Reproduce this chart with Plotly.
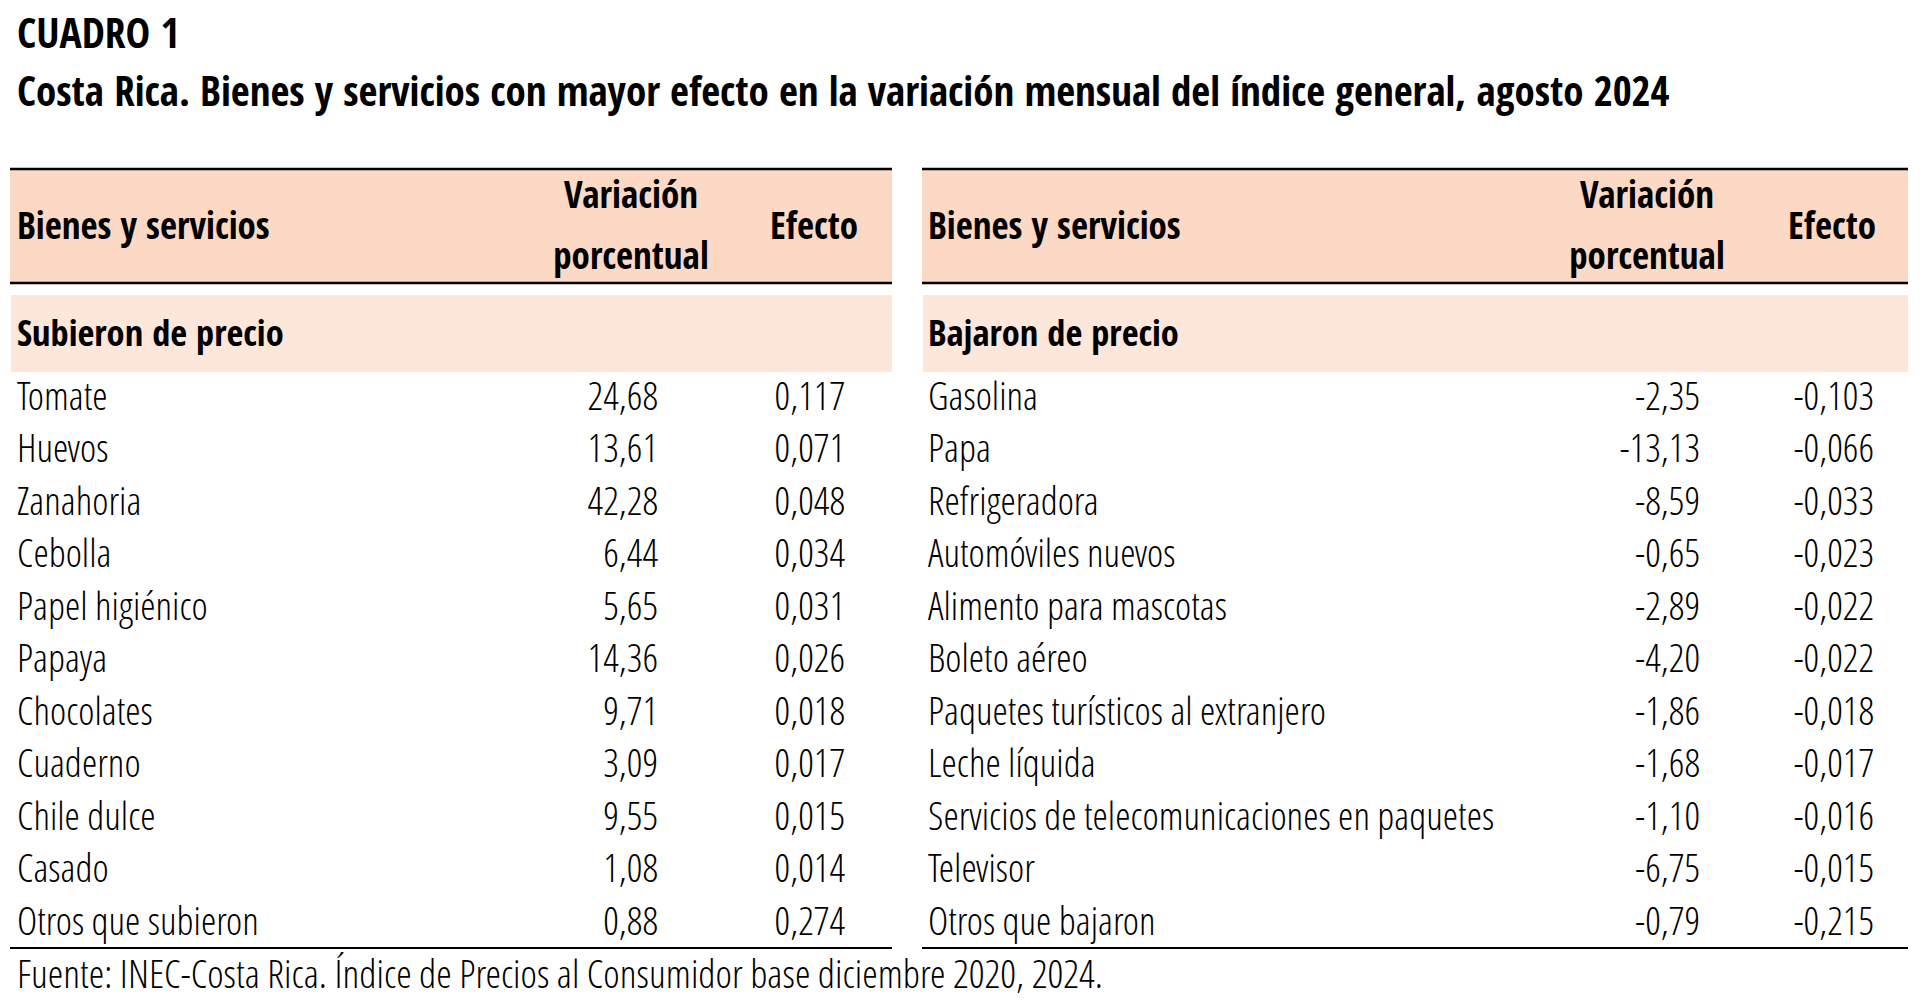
import plotly.graph_objects as go

# ---------------- data ----------------
title_text = "CUADRO 1"
subtitle_text = "Costa Rica. Bienes y servicios con mayor efecto en la variación mensual del índice general, agosto 2024"
footnote_text = "Fuente: INEC-Costa Rica. Índice de Precios al Consumidor base diciembre 2020, 2024."

col_headers = ["Bienes y servicios", "Variación", "porcentual", "Efecto"]
left_group = "Subieron de precio"
right_group = "Bajaron de precio"

left_items = ["Tomate", "Huevos", "Zanahoria", "Cebolla", "Papel higiénico", "Papaya",
              "Chocolates", "Cuaderno", "Chile dulce", "Casado", "Otros que subieron"]
left_var = [24.68, 13.61, 42.28, 6.44, 5.65, 14.36, 9.71, 3.09, 9.55, 1.08, 0.88]
left_eff = [0.117, 0.071, 0.048, 0.034, 0.031, 0.026, 0.018, 0.017, 0.015, 0.014, 0.274]

right_items = ["Gasolina", "Papa", "Refrigeradora", "Automóviles nuevos", "Alimento para mascotas",
               "Boleto aéreo", "Paquetes turísticos al extranjero", "Leche líquida",
               "Servicios de telecomunicaciones en paquetes", "Televisor", "Otros que bajaron"]
right_var = [-2.35, -13.13, -8.59, -0.65, -2.89, -4.20, -1.86, -1.68, -1.10, -6.75, -0.79]
right_eff = [-0.103, -0.066, -0.033, -0.023, -0.022, -0.022, -0.018, -0.017, -0.016, -0.015, -0.215]

# ---------------- layout constants (page pixels) ----------------
PAGE_W, PAGE_H = 1920, 1003
REG = "Open Sans Condensed Light"
BOLD = "Open Sans Condensed"
FS = 39
FS_HEAD = 37
HEAD_FILL = "#FCD9C4"
SUB_FILL = "#FDE6DA"

ROW0 = 400.0
ROW_H = 52.5

tables = [
    dict(x0=10, x1=892, name_x=17, var_x=658, eff_x=845, var_c=631, eff_c=814,
         group=left_group, items=left_items, var=left_var, eff=left_eff),
    dict(x0=922, x1=1908, name_x=928, var_x=1700, eff_x=1874, var_c=1647, eff_c=1832,
         group=right_group, items=right_items, var=right_var, eff=right_eff),
]


def fmt(v, d):
    return f"{v:.{d}f}".replace(".", ",")


def text_trace(x, y, text, pos, family, size, bold=False):
    font = dict(family=family, size=size, color="black")
    if bold:
        font["weight"] = "bold"
    return go.Scatter(x=x, y=y, mode="text", text=text, textposition=pos, textfont=font,
                      cliponaxis=False, hoverinfo="skip", showlegend=False)


fig = go.Figure()
shapes = []

for t in tables:
    shapes.append(dict(type="rect", x0=t["x0"], x1=t["x1"], y0=169, y1=283,
                       fillcolor=HEAD_FILL, line_width=0, layer="below"))
    shapes.append(dict(type="rect", x0=t["x0"] + 1, x1=t["x1"], y0=295, y1=372,
                       fillcolor=SUB_FILL, line_width=0, layer="below"))
    for yy, lw in [(169, 2.6), (283, 2.6), (948, 2.2)]:
        shapes.append(dict(type="line", x0=t["x0"], x1=t["x1"], y0=yy, y1=yy,
                           line=dict(color="black", width=lw)))

    n = len(t["items"])
    ys = [ROW0 + i * ROW_H for i in range(n)]

    fig.add_trace(text_trace([t["name_x"]] * n, ys, t["items"], "middle right", REG, FS))
    fig.add_trace(text_trace([t["var_x"]] * n, ys, [fmt(v, 2) for v in t["var"]],
                             "middle left", REG, FS))
    fig.add_trace(text_trace([t["eff_x"]] * n, ys, [fmt(v, 3) for v in t["eff"]],
                             "middle left", REG, FS))
    fig.add_trace(text_trace([t["name_x"], t["var_c"], t["var_c"], t["eff_c"], t["name_x"]],
                             [230, 199, 260, 230, 337],
                             [col_headers[0], col_headers[1], col_headers[2], col_headers[3], t["group"]],
                             ["middle right", "middle center", "middle center", "middle center", "middle right"],
                             BOLD, [FS_HEAD, FS_HEAD, FS_HEAD, FS_HEAD, 36.5], bold=True))

fig.add_trace(text_trace([17, 17], [38, 96], [title_text, subtitle_text], "middle right",
                         BOLD, [41.5, 41], bold=True))
fig.add_trace(text_trace([17], [978], [footnote_text], "middle right", REG, 39.5))

fig.update_layout(
    width=PAGE_W, height=PAGE_H,
    margin=dict(l=0, r=0, t=0, b=0),
    paper_bgcolor="white", plot_bgcolor="white",
    xaxis=dict(range=[0, PAGE_W], visible=False, fixedrange=True),
    yaxis=dict(range=[PAGE_H, 0], visible=False, fixedrange=True),
    shapes=shapes,
    hovermode=False,
)
fig.write_html("out.html",
               config={"displayModeBar": False, "staticPlot": True},
               post_script="document.body.style.margin='0';document.body.style.overflow='hidden';")
